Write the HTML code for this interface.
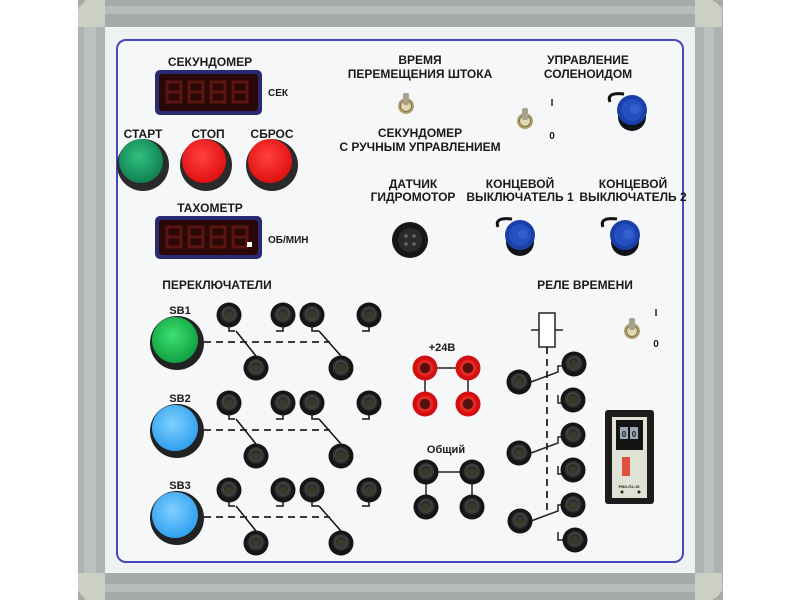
<!DOCTYPE html>
<html><head><meta charset="utf-8"><style>
html,body{margin:0;padding:0;background:#fff;width:800px;height:600px;overflow:hidden}
text{font-family:"Liberation Sans","DejaVu Sans",sans-serif;font-weight:bold;fill:#1a1a1a}
</style></head><body>
<svg width="800" height="600" viewBox="0 0 800 600" xmlns="http://www.w3.org/2000/svg">
<defs>
<radialGradient id="jk" cx="50%" cy="45%" r="55%"><stop offset="0" stop-color="#5a5a3a"/><stop offset="0.35" stop-color="#222"/><stop offset="0.6" stop-color="#444"/><stop offset="1" stop-color="#111"/></radialGradient>
<radialGradient id="gr" cx="45%" cy="40%" r="60%"><stop offset="0" stop-color="#3ce070"/><stop offset="1" stop-color="#10a040"/></radialGradient>
<radialGradient id="gr2" cx="45%" cy="40%" r="60%"><stop offset="0" stop-color="#30c080"/><stop offset="1" stop-color="#108050"/></radialGradient>
<radialGradient id="re" cx="45%" cy="40%" r="60%"><stop offset="0" stop-color="#ff4040"/><stop offset="1" stop-color="#e01010"/></radialGradient>
<radialGradient id="bl" cx="45%" cy="40%" r="60%"><stop offset="0" stop-color="#80d0ff"/><stop offset="1" stop-color="#30a0f0"/></radialGradient>
<g id="j"><circle r="12.5" fill="#151515"/><circle r="9" fill="url(#jk)"/><circle r="4" fill="#3a3a2a"/></g>
<g id="r"><circle r="12.5" fill="#d01010"/><circle r="8.5" fill="#e82020"/><circle r="6" fill="#551010" stroke="#e03020" stroke-width="1.5"/></g>
<g id="bc"><path d="M-22,-8 q-4,-10 14,-8" stroke="#111" stroke-width="3" fill="none"/><circle cy="7" r="14" fill="#101418"/><circle r="15" fill="#1a3fa8"/><circle r="11" fill="#2450c0"/><circle cx="3" cy="-1" r="5" fill="#3360d0"/></g>
<g id="tg"><circle r="8" fill="#b0a070"/><circle r="5.5" fill="#e0d8b0" stroke="#807040"/><rect x="-3" y="-13" width="6" height="12" rx="2" fill="#a8a090"/></g>
</defs>
<rect x="78" y="0" width="645" height="600" fill="#aeb2b0"/>
<rect x="78" y="0" width="645" height="27" fill="#a6aba9"/>
<rect x="78" y="573" width="645" height="27" fill="#a6aba9"/>
<rect x="84" y="0" width="12" height="600" fill="#bcc0be"/>
<rect x="704" y="0" width="10" height="600" fill="#bcc0be"/>
<rect x="78" y="6" width="645" height="8" fill="#b8bcba"/>
<rect x="78" y="584" width="645" height="8" fill="#b8bcba"/>
<path d="M78,27 V14 a14,14 0 0 1 14,-14 H105 V27Z" fill="#cdd0c4"/>
<path d="M695,0 H708 a14,14 0 0 1 14,14 V27 H695Z" fill="#cdd0c4"/>
<path d="M78,573 V586 a14,14 0 0 0 14,14 H105 V573Z" fill="#cdd0c4"/>
<path d="M695,573 V600 H708 a14,14 0 0 0 14,-14 V573Z" fill="#cdd0c4"/>
<rect x="105" y="27" width="590" height="546" fill="#f0f1f3"/>
<rect x="117" y="40" width="566" height="522" rx="9" fill="#f6f7f9" stroke="#4448c0" stroke-width="2"/>

<text x="210" y="66" font-size="12" text-anchor="middle">СЕКУНДОМЕР</text>
<rect x="155" y="70" width="107" height="45" rx="5" fill="#2a2a70"/>
<rect x="159" y="74" width="99" height="37" rx="3" fill="#2a0808"/>
<g fill="none" stroke="#5a1510" stroke-width="3">
<path d="M167,82h14v10h-14zM167,92v10h14v-10M189,82h14v10h-14zM189,92v10h14v-10M211,82h14v10h-14zM211,92v10h14v-10M233,82h14v10h-14zM233,92v10h14v-10"/>
</g>
<text x="268" y="96" font-size="10">СЕК</text>

<text x="143" y="138" font-size="12" text-anchor="middle">СТАРТ</text>
<text x="208" y="138" font-size="12" text-anchor="middle">СТОП</text>
<text x="272" y="138" font-size="12" text-anchor="middle">СБРОС</text>
<circle cx="143" cy="165" r="26" fill="#2a2a2a"/><circle cx="141" cy="161" r="22" fill="url(#gr2)"/>
<circle cx="206" cy="165" r="26" fill="#2a2a2a"/><circle cx="204" cy="161" r="22" fill="url(#re)"/>
<circle cx="272" cy="165" r="26" fill="#2a2a2a"/><circle cx="270" cy="161" r="22" fill="url(#re)"/>

<text x="210" y="212" font-size="12" text-anchor="middle">ТАХОМЕТР</text>
<rect x="155" y="216" width="107" height="43" rx="5" fill="#2a2a70"/>
<rect x="159" y="220" width="99" height="35" rx="3" fill="#2a0808"/>
<g fill="none" stroke="#5a1510" stroke-width="3">
<path d="M167,227h14v10h-14zM167,237v10h14v-10M189,227h14v10h-14zM189,237v10h14v-10M211,227h14v10h-14zM211,237v10h14v-10M233,227h14v10h-14zM233,237v10h14v-10"/>
</g>
<rect x="247" y="242" width="5" height="5" fill="#fff"/>
<text x="268" y="243" font-size="10">ОБ/МИН</text>

<text x="217" y="289" font-size="12" text-anchor="middle">ПЕРЕКЛЮЧАТЕЛИ</text>
<g id="sw">
<g stroke="#111" stroke-width="1.5" fill="none">
<path d="M229,325v6h6M236,331l20,25M283,326v5h-7M312,326v5h7M319,331l22,25M369,326v5h-7"/>
</g>
<path d="M204,342H330" stroke="#222" stroke-width="1.8" stroke-dasharray="7,5"/>
<use href="#j" x="229" y="315"/><use href="#j" x="283" y="315"/><use href="#j" x="312" y="315"/><use href="#j" x="369" y="315"/>
<use href="#j" x="256" y="368"/><use href="#j" x="341" y="368"/>
</g>
<use href="#sw" y="88"/>
<use href="#sw" y="175"/>
<text x="180" y="314" font-size="11" text-anchor="middle">SB1</text>
<text x="180" y="402" font-size="11" text-anchor="middle">SB2</text>
<text x="180" y="489" font-size="11" text-anchor="middle">SB3</text>
<circle cx="177" cy="343" r="27" fill="#222"/><circle cx="175" cy="340" r="23" fill="url(#gr)"/>
<circle cx="177" cy="431" r="27" fill="#222"/><circle cx="175" cy="428" r="23" fill="url(#bl)"/>
<circle cx="177" cy="518" r="27" fill="#222"/><circle cx="175" cy="515" r="23" fill="url(#bl)"/>

<text x="420" y="64" font-size="12" text-anchor="middle">ВРЕМЯ</text>
<text x="420" y="78" font-size="12" text-anchor="middle">ПЕРЕМЕЩЕНИЯ ШТОКА</text>
<use href="#tg" x="406" y="106"/>
<text x="420" y="137" font-size="12" text-anchor="middle">СЕКУНДОМЕР</text>
<text x="420" y="151" font-size="12" text-anchor="middle">С РУЧНЫМ УПРАВЛЕНИЕМ</text>
<text x="588" y="64" font-size="12" text-anchor="middle">УПРАВЛЕНИЕ</text>
<text x="588" y="78" font-size="12" text-anchor="middle">СОЛЕНОИДОМ</text>
<text x="552" y="106" font-size="10" text-anchor="middle">I</text>
<text x="552" y="139" font-size="10" text-anchor="middle">0</text>
<use href="#tg" x="525" y="121"/>
<use href="#bc" x="632" y="110"/>

<text x="413" y="188" font-size="12" text-anchor="middle">ДАТЧИК</text>
<text x="413" y="201" font-size="12" text-anchor="middle">ГИДРОМОТОР</text>
<circle cx="410" cy="240" r="18" fill="#161616"/><circle cx="410" cy="240" r="12" fill="#2a2a2a"/>
<g fill="#666"><circle cx="406" cy="236" r="1.8"/><circle cx="414" cy="236" r="1.8"/><circle cx="406" cy="244" r="1.8"/><circle cx="414" cy="244" r="1.8"/></g>
<text x="520" y="188" font-size="12" text-anchor="middle">КОНЦЕВОЙ</text>
<text x="520" y="201" font-size="12" text-anchor="middle">ВЫКЛЮЧАТЕЛЬ 1</text>
<text x="633" y="188" font-size="12" text-anchor="middle">КОНЦЕВОЙ</text>
<text x="633" y="201" font-size="12" text-anchor="middle">ВЫКЛЮЧАТЕЛЬ 2</text>
<use href="#bc" x="520" y="235"/>
<use href="#bc" x="625" y="235"/>

<text x="442" y="351" font-size="11" text-anchor="middle">+24В</text>
<path d="M425,368H468M425,368V404M468,368V404" stroke="#222" stroke-width="1.5"/>
<use href="#r" x="425" y="368"/><use href="#r" x="468" y="368"/><use href="#r" x="425" y="404"/><use href="#r" x="468" y="404"/>
<text x="446" y="453" font-size="11" text-anchor="middle">Общий</text>
<path d="M426,472H472M426,472V507M472,472V507" stroke="#222" stroke-width="1.5"/>
<use href="#j" x="426" y="472"/><use href="#j" x="472" y="472"/><use href="#j" x="426" y="507"/><use href="#j" x="472" y="507"/>

<text x="585" y="289" font-size="12" text-anchor="middle">РЕЛЕ ВРЕМЕНИ</text>
<rect x="539" y="313" width="16" height="34" fill="#fff" stroke="#222" stroke-width="1.5"/>
<path d="M531,330H539M555,330H563" stroke="#222" stroke-width="1.5"/>
<path d="M547,347V512" stroke="#222" stroke-width="1.8" stroke-dasharray="7,5"/>
<g stroke="#222" stroke-width="1.5" fill="none">
<path d="M531,382L558,372V366H563M558,395V403H563"/>
<path d="M531,453L558,443V437H563M558,466V474H563"/>
<path d="M531,521L558,511V505H563M558,532V540H563"/>
</g>
<use href="#j" x="519" y="382"/><use href="#j" x="519" y="453"/><use href="#j" x="520" y="521"/>
<use href="#j" x="574" y="364"/><use href="#j" x="573" y="400"/><use href="#j" x="573" y="435"/><use href="#j" x="573" y="470"/><use href="#j" x="573" y="505"/><use href="#j" x="575" y="540"/>
<use href="#tg" x="632" y="331"/>
<text x="656" y="316" font-size="10" text-anchor="middle">I</text>
<text x="656" y="347" font-size="10" text-anchor="middle">0</text>
<rect x="605" y="410" width="49" height="94" rx="3" fill="#1c1c1c"/>
<rect x="612" y="417" width="35" height="81" fill="#dfe2d4"/>
<rect x="616" y="420" width="27" height="30" fill="#141414"/>
<rect x="620" y="427" width="8" height="12" fill="#9aa8b8"/><rect x="630" y="427" width="8" height="12" fill="#9aa8b8"/>
<text x="624" y="437" font-size="8" text-anchor="middle">0</text><text x="634" y="437" font-size="8" text-anchor="middle">0</text>
<rect x="622" y="457" width="8" height="19" fill="#e05040"/>
<text x="629" y="488" font-size="4" font-weight="normal" text-anchor="middle">РВО-П2-15</text>
<circle cx="622" cy="492" r="1.5" fill="#222"/><circle cx="639" cy="492" r="1.5" fill="#222"/>
</svg>
</body></html>
